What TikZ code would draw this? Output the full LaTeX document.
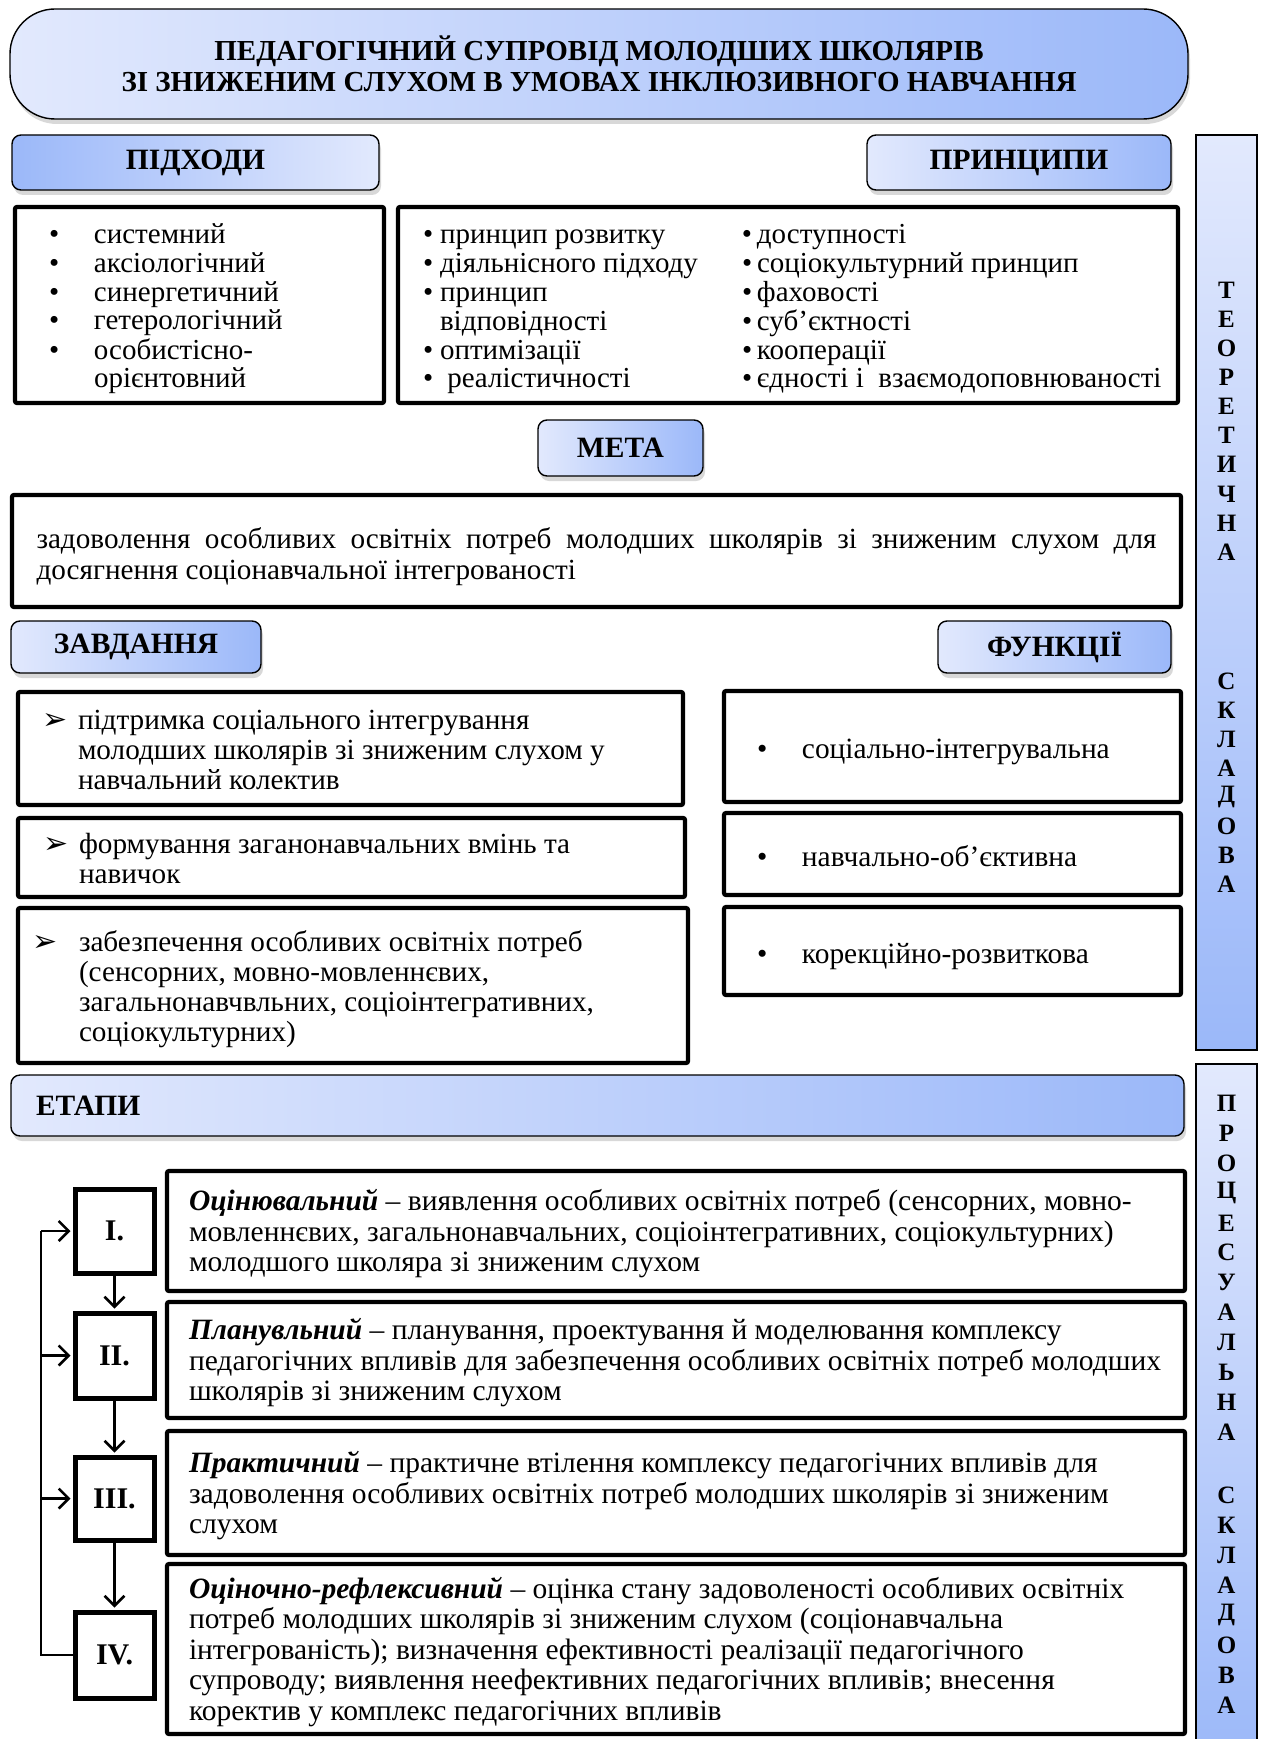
\documentclass[tikz,border=0pt]{standalone}
\usepackage{fontspec}
\setmainfont{Liberation Serif}
\newfontfamily\dejavu{DejaVu Sans}
\usetikzlibrary{shadows,arrows.meta}
\definecolor{gl}{RGB}{226,233,253}
\definecolor{gd}{RGB}{155,184,249}
\newcommand{\mybul}[1]{\makebox[#1][l]{\textbullet}}
\newcommand{\myarr}[1]{\makebox[#1][l]{\dejavu\fontsize{30}{26}\selectfont ➢}}
\newcommand{\pcol}[1]{\makebox[319pt][l]{#1}}
\newcommand{\lineset}[3][-5pt]{\raisebox{#1}[\height][\depth]{\makebox[#2][l]{\begin{tabular}{@{}l@{}}#3\end{tabular}}}}
\begin{document}
\begin{tikzpicture}[x=1pt,y=-1pt,
  head/.style={draw=black, line width=1.4pt, rounded corners=9pt, inner sep=0pt,
    drop shadow={shadow xshift=2pt, shadow yshift=-5pt, opacity=0.3},
    font=\fontsize{29.5}{31}\selectfont\bfseries},
  hlr/.style={head, left color=gl, right color=gd},
  hrl/.style={head, left color=gd, right color=gl},
  tbox/.style={draw=black, line width=4.2pt, rounded corners=2pt, fill=white, inner ysep=0pt},
  nbox/.style={draw=black, line width=5pt, fill=white, inner sep=0pt, font=\fontsize{30}{32}\selectfont\bfseries},
  vbar/.style={draw=black, line width=1.2pt, top color=gl, bottom color=gd, inner sep=0pt},
  vlet/.style={font=\fontsize{25}{25}\selectfont\bfseries, inner sep=0pt, anchor=center},
  lst/.style={font=\fontsize{29}{28.7}\selectfont},
  tsk/.style={font=\fontsize{29.2}{30}\selectfont},
  fnc/.style={font=\fontsize{29.4}{30}\selectfont},
  stg/.style={font=\fontsize{29.5}{30.5}\selectfont},
  arr/.style={line width=2.5pt, -{Straight Barb[length=10pt,width=20pt]}, shorten >=2pt},
  ln/.style={line width=2.5pt}]
\useasboundingbox (0,0) rectangle (1264,1739);
\fill[white] (0,0) rectangle (1264,1739);

% title
\node[hlr, rounded corners=45pt, minimum width=1178pt, minimum height=110pt, align=center,
  font=\fontsize{29}{31}\selectfont\bfseries] (title) at (599,64)
 {ПЕДАГОГІЧНИЙ СУПРОВІД МОЛОДШИХ ШКОЛЯРІВ\\ЗІ ЗНИЖЕНИМ СЛУХОМ В УМОВАХ ІНКЛЮЗИВНОГО НАВЧАННЯ};

% side bars
\node[vbar, minimum width=61pt, minimum height=915pt] (tbar) at (1226.5,592.5) {};
\node[vbar, minimum width=61pt, minimum height=700pt] (pbar) at (1226.5,1414) {};
\foreach \l [count=\i] in {Т,Е,О,Р,Е,Т,И,Ч,Н,А}
  \node[vlet] (ta\i) at (1226.5,{290.5+29.05*(\i-1)}) {\l};
\foreach \l [count=\i] in {С,К,Л,А,Д,О,В,А}
  \node[vlet] (tb\i) at (1226.5,{681+29.1*(\i-1)}) {\l};
\foreach \l [count=\i] in {П,Р,О,Ц,Е,С,У,А,Л,Ь,Н,А}
  \node[vlet] (pa\i) at (1226.5,{1103.3+29.9*(\i-1)}) {\l};
\foreach \l [count=\i] in {С,К,Л,А,Д,О,В,А}
  \node[vlet] (pb\i) at (1226.5,{1495.8+29.9*(\i-1)}) {\l};

% headings
\node[hrl, minimum width=367pt, minimum height=55pt] (pidh) at (195.5,162.5) {ПІДХОДИ};
\node[hlr, minimum width=304pt, minimum height=55pt] (prin) at (1019,162.5) {ПРИНЦИПИ};

% approaches list
\node[tbox, lst, minimum width=369pt, minimum height=196pt, inner xsep=34pt] (pidhl) at (199.5,305)
 {\lineset{301pt}{\mybul{45pt}системний\\
  \mybul{45pt}аксіологічний\\
  \mybul{45pt}синергетичний\\
  \mybul{45pt}гетерологічний\\
  \mybul{45pt}особистісно-\\
  \hspace*{45pt}орієнтовний}};

% principles list
\node[tbox, lst, minimum width=780pt, minimum height=196pt, inner xsep=25pt] (prinl) at (788,305)
 {\lineset{730pt}{\pcol{\mybul{17pt}принцип розвитку}\mybul{15pt}доступності\\
  \pcol{\mybul{17pt}діяльнісного підходу}\mybul{15pt}соціокультурний принцип\\
  \pcol{\mybul{17pt}принцип}\mybul{15pt}фаховості\\
  \pcol{\hspace*{17pt}відповідності}\mybul{15pt}суб’єктності\\
  \pcol{\mybul{17pt}оптимізації}\mybul{15pt}кооперації\\
  \pcol{\mybul{17pt}\ реалістичності}\mybul{15pt}єдності і\ \ взаємодоповнюваності}};

% goal
\node[hlr, minimum width=165pt, minimum height=56pt] (meta) at (620.5,448) {МЕТА};
\node[tbox, minimum width=1169pt, minimum height=112pt, inner xsep=24.5pt,
  font=\fontsize{29.2}{31}\selectfont] (goal) at (596.5,551)
 {\lineset[-7pt]{1120pt}{\makebox[1120pt][s]{задоволення особливих освітніх потреб молодших школярів зі зниженим слухом для}\\
  досягнення соціонавчальної інтегрованості}};

% tasks & functions headings
\node[hlr, minimum width=250pt, minimum height=52pt] (zavd) at (136,647) {ЗАВДАННЯ};
\node[hlr, minimum width=233pt, minimum height=52pt] (funk) at (1054.5,647) {ФУНКЦІЇ};

% tasks
\node[tbox, tsk, minimum width=665pt, minimum height=113pt, inner xsep=24pt] (t1) at (350.5,748.5)
 {\lineset{617pt}{\myarr{36pt}підтримка соціального інтегрування\\
  \hspace*{36pt}молодших школярів зі зниженим слухом у\\
  \hspace*{36pt}навчальний колектив}};
\node[tbox, tsk, minimum width=667pt, minimum height=79pt, inner xsep=25pt] (t2) at (351.5,857.5)
 {\lineset{617pt}{\myarr{36pt}формування заганонавчальних вмінь та\\
  \hspace*{36pt}навичок}};
\node[tbox, tsk, minimum width=670pt, minimum height=155pt, inner xsep=14pt] (t3) at (353,985.5)
 {\lineset{642pt}{\myarr{47pt}забезпечення особливих освітніх потреб\\
  \hspace*{47pt}(сенсорних, мовно-мовленнєвих,\\
  \hspace*{47pt}загальнонавчвльних, соціоінтегративних,\\
  \hspace*{47pt}соціокультурних)}};

% functions
\node[tbox, fnc, minimum width=457pt, minimum height=111pt, inner xsep=33pt] (f1) at (952.5,746.5)
 {\lineset[-6pt]{391pt}{\mybul{45pt}соціально-інтегрувальна}};
\node[tbox, fnc, minimum width=457pt, minimum height=82pt, inner xsep=33pt] (f2) at (952.5,854)
 {\lineset[-6pt]{391pt}{\mybul{45pt}навчально-об’єктивна}};
\node[tbox, fnc, minimum width=457pt, minimum height=88pt, inner xsep=33pt] (f3) at (952.5,951)
 {\lineset[-6pt]{391pt}{\mybul{45pt}корекційно-розвиткова}};

% stages
\node[hlr, minimum width=1173pt, minimum height=61pt, inner xsep=25pt, text width=1123pt, align=left] (etapy) at (597.5,1105.5) {ЕТАПИ};

\node[nbox, minimum width=79pt, minimum height=84pt] (n1) at (114.5,1231) {I.};
\node[nbox, minimum width=79pt, minimum height=85pt] (n2) at (114.5,1355.5) {II.};
\node[nbox, minimum width=79pt, minimum height=83pt] (n3) at (114.5,1498.5) {III.};
\node[nbox, minimum width=79pt, minimum height=86pt] (n4) at (114.5,1655) {IV.};

\node[tbox, stg, minimum width=1018pt, minimum height=120pt, inner xsep=22pt] (s1) at (676,1231)
 {\lineset[-4pt]{974pt}{\textbf{\textit{Оцінювальний}} – виявлення особливих освітніх потреб (сенсорних, мовно-\\
  мовленнєвих, загальнонавчальних, соціоінтегративних, соціокультурних)\\
  молодшого школяра зі зниженим слухом}};
\node[tbox, stg, minimum width=1018pt, minimum height=116pt, inner xsep=22pt] (s2) at (676,1360)
 {\lineset[-4pt]{974pt}{\textbf{\textit{Планувльний}} – планування, проектування й моделювання комплексу\\
  педагогічних впливів для забезпечення особливих освітніх потреб молодших\\
  школярів зі зниженим слухом}};
\node[tbox, stg, minimum width=1018pt, minimum height=124pt, inner xsep=22pt] (s3) at (676,1493)
 {\lineset[-4pt]{974pt}{\textbf{\textit{Практичний}} – практичне втілення комплексу педагогічних впливів для\\
  задоволення особливих освітніх потреб молодших школярів зі зниженим\\
  слухом}};
\node[tbox, stg, minimum width=1018pt, minimum height=170pt, inner xsep=22pt] (s4) at (676,1649)
 {\lineset[-4pt]{974pt}{\textbf{\textit{Оціночно-рефлексивний}} – оцінка стану задоволеності особливих освітніх\\
  потреб молодших школярів зі зниженим слухом (соціонавчальна\\
  інтегрованість); визначення ефективності реалізації педагогічного\\
  супроводу; виявлення неефективних педагогічних впливів; внесення\\
  коректив у комплекс педагогічних впливів}};

% connectors
\draw[arr] (n1.south) -- (n2.north);
\draw[arr] (n2.south) -- (n3.north);
\draw[arr] (n3.south) -- (n4.north);
\coordinate (lt) at (41,1231);
\draw[ln] (n4.west) -| (lt);
\draw[arr] (lt) -- (n1.west);
\draw[arr] (lt |- n2.west) -- (n2.west);
\draw[arr] (lt |- n3.west) -- (n3.west);
\end{tikzpicture}
\end{document}
